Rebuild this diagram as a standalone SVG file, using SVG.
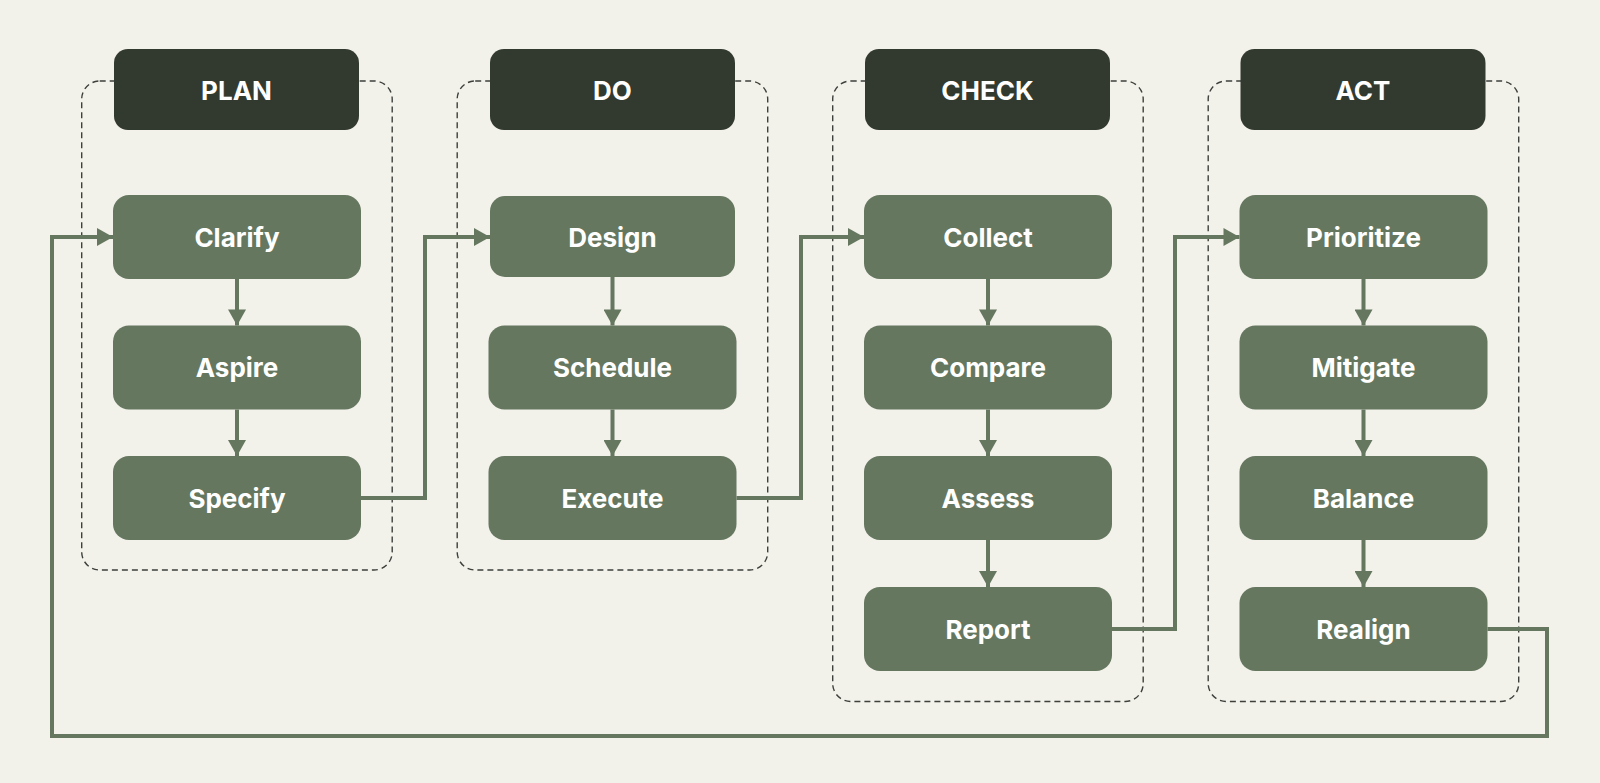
<svg xmlns="http://www.w3.org/2000/svg" width="1600" height="783" viewBox="0 0 1600 783">
<defs>
<style>
.bg{fill:#F2F1EA}
.cont{fill:none;stroke:#3d403b;stroke-width:1.4;stroke-dasharray:6 4}
.hdr{fill:#323A30}
.node{fill:#65775F}
.ht{font-family:Inter,"Noto Sans","Liberation Sans",sans-serif;font-weight:700;font-size:26px;fill:#FFFFFF;text-anchor:middle;dominant-baseline:central}
.nt{font-family:Inter,"Noto Sans","Liberation Sans",sans-serif;font-weight:700;font-size:26px;fill:#FFFFFF;text-anchor:middle;dominant-baseline:central}
.edge{fill:none;stroke:#65775F;stroke-width:4;stroke-linejoin:miter}
</style>
<marker id="ah" markerUnits="userSpaceOnUse" markerWidth="18" markerHeight="18" viewBox="0 0 16 18" refX="16" refY="9" orient="auto">
<path d="M0,0 L16,9 L0,18 Z" fill="#65775F"/>
</marker>
</defs>
<rect class="bg" x="0" y="0" width="1600" height="783"/>

<g id="containers">
<rect class="cont" x="81.7" y="81" width="310.5" height="489" rx="18"/>
<rect class="cont" x="457.2" y="81" width="310.5" height="489" rx="18"/>
<rect class="cont" x="832.7" y="81" width="310.5" height="620.5" rx="18"/>
<rect class="cont" x="1208.2" y="81" width="310.5" height="620.5" rx="18"/>
</g>

<g id="headers">
<g id="h-plan"><rect class="hdr" x="114" y="49" width="245" height="81" rx="14"/><text class="ht" x="236.5" y="90">PLAN</text></g>
<g id="h-do"><rect class="hdr" x="490" y="49" width="245" height="81" rx="14"/><text class="ht" x="612.5" y="90">DO</text></g>
<g id="h-check"><rect class="hdr" x="865" y="49" width="245" height="81" rx="14"/><text class="ht" x="987.5" y="90">CHECK</text></g>
<g id="h-act"><rect class="hdr" x="1240.5" y="49" width="245" height="81" rx="14"/><text class="ht" x="1363" y="90">ACT</text></g>
</g>

<g id="connectors">
<path class="edge" marker-end="url(#ah)" d="M237,279 V325.5"/>
<path class="edge" marker-end="url(#ah)" d="M237,409.5 V456"/>
<path class="edge" marker-end="url(#ah)" d="M612.5,277 V325.5"/>
<path class="edge" marker-end="url(#ah)" d="M612.5,409.5 V456"/>
<path class="edge" marker-end="url(#ah)" d="M988,279 V325.5"/>
<path class="edge" marker-end="url(#ah)" d="M988,409.5 V456"/>
<path class="edge" marker-end="url(#ah)" d="M988,540 V587"/>
<path class="edge" marker-end="url(#ah)" d="M1363.5,279 V325.5"/>
<path class="edge" marker-end="url(#ah)" d="M1363.5,409.5 V456"/>
<path class="edge" marker-end="url(#ah)" d="M1363.5,540 V587"/>
<path class="edge" marker-end="url(#ah)" d="M361,498 H425 V237 H490"/>
<path class="edge" marker-end="url(#ah)" d="M736.5,498 H801 V237 H864"/>
<path class="edge" marker-end="url(#ah)" d="M1112,629 H1175 V237 H1239.5"/>
<path class="edge" marker-end="url(#ah)" d="M1487.5,629 H1547 V736 H52 V237 H113"/>
</g>

<g id="n-clarify"><rect class="node" x="113" y="195" width="248" height="84" rx="16"/><text class="nt" x="237" y="237">Clarify</text></g>
<g id="n-aspire"><rect class="node" x="113" y="325.5" width="248" height="84" rx="16"/><text class="nt" x="237" y="367.5">Aspire</text></g>
<g id="n-specify"><rect class="node" x="113" y="456" width="248" height="84" rx="16"/><text class="nt" x="237" y="498">Specify</text></g>

<g id="n-design"><rect class="node" x="490" y="196" width="245" height="81" rx="15"/><text class="nt" x="612.5" y="237">Design</text></g>
<g id="n-schedule"><rect class="node" x="488.5" y="325.5" width="248" height="84" rx="16"/><text class="nt" x="612.5" y="367.5">Schedule</text></g>
<g id="n-execute"><rect class="node" x="488.5" y="456" width="248" height="84" rx="16"/><text class="nt" x="612.5" y="498">Execute</text></g>

<g id="n-collect"><rect class="node" x="864" y="195" width="248" height="84" rx="16"/><text class="nt" x="988" y="237">Collect</text></g>
<g id="n-compare"><rect class="node" x="864" y="325.5" width="248" height="84" rx="16"/><text class="nt" x="988" y="367.5">Compare</text></g>
<g id="n-assess"><rect class="node" x="864" y="456" width="248" height="84" rx="16"/><text class="nt" x="988" y="498">Assess</text></g>
<g id="n-report"><rect class="node" x="864" y="587" width="248" height="84" rx="16"/><text class="nt" x="988" y="629">Report</text></g>

<g id="n-prioritize"><rect class="node" x="1239.5" y="195" width="248" height="84" rx="16"/><text class="nt" x="1363.5" y="237">Prioritize</text></g>
<g id="n-mitigate"><rect class="node" x="1239.5" y="325.5" width="248" height="84" rx="16"/><text class="nt" x="1363.5" y="367.5">Mitigate</text></g>
<g id="n-balance"><rect class="node" x="1239.5" y="456" width="248" height="84" rx="16"/><text class="nt" x="1363.5" y="498">Balance</text></g>
<g id="n-realign"><rect class="node" x="1239.5" y="587" width="248" height="84" rx="16"/><text class="nt" x="1363.5" y="629">Realign</text></g>
</svg>
